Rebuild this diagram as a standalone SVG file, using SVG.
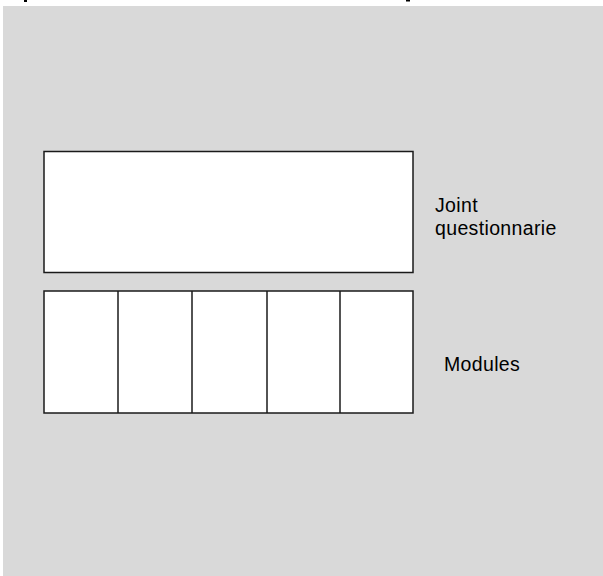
<svg xmlns="http://www.w3.org/2000/svg" width="603" height="576" viewBox="0 0 603 576">
<style>
.box{fill:#fff;stroke:#1a1a1a;stroke-width:1.5}
.div{stroke:#1a1a1a;stroke-width:1.5}
.lbl{font-family:"Liberation Sans",Arial,sans-serif;font-size:19.5px;letter-spacing:0.35px;fill:#000}
</style>
<rect x="0" y="0" width="603" height="576" fill="#fff"/>
<rect x="3" y="6" width="600" height="570" fill="#d9d9d9"/>
<rect x="24" y="0" width="3" height="2" fill="#000"/>
<rect x="406" y="0" width="4" height="1.5" fill="#000"/>
<g id="joint">
<rect class="box" x="44" y="151.5" width="369" height="121"/>
</g>
<g id="modules">
<rect class="box" x="44" y="291" width="369" height="122"/>
</g>
<g id="connectors">
<line class="div" x1="118" y1="291" x2="118" y2="413"/>
<line class="div" x1="192" y1="291" x2="192" y2="413"/>
<line class="div" x1="267" y1="291" x2="267" y2="413"/>
<line class="div" x1="340" y1="291" x2="340" y2="413"/>
</g>
<g id="labels">
<text class="lbl" x="435" y="212">Joint</text>
<text class="lbl" x="435" y="235">questionnarie</text>
<text class="lbl" x="444" y="371">Modules</text>
</g>
</svg>
